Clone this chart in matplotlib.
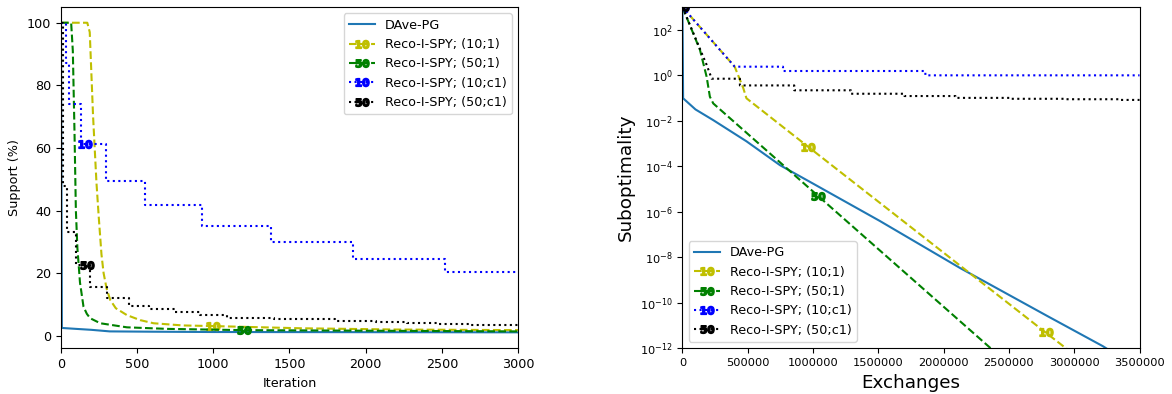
import numpy as np
import matplotlib
matplotlib.use("Agg")
from matplotlib import pyplot as plt
from matplotlib.ticker import NullLocator

# -----------------------
# data: left panel (support vs iteration)
# -----------------------

it_dave = [0, 6, 100, 200, 320, 600, 1000, 3000]
sup_dave = [100, 2.5, 2.2, 1.9, 1.4, 1.3, 1.2, 1.1]

it_10_1 = [0, 173, 189, 211, 233, 248, 266, 280, 300, 324, 360, 433, 520,
           608, 800, 1000, 1571, 2200, 3000]
sup_10_1 = [100, 100, 97, 70, 49, 38, 26, 20, 15, 11.4, 8.8, 6.6, 5.0,
            4.0, 3.3, 3.1, 2.4, 2.0, 1.8]

it_50_1 = [0, 67, 78, 89, 98, 108, 125, 148, 170, 192, 258, 433, 700,
           1200, 3000]
sup_50_1 = [100, 100, 91, 65, 40, 28, 17, 9.3, 7.0, 5.6, 4.0, 2.7, 2.2,
            1.8, 1.4]

# step curves (value holds until next x)
it_10_c1 = [0, 30, 55, 133, 160, 293, 550, 925, 1376, 1915, 2518, 3000]
sup_10_c1 = [100, 87, 74, 61.4, 61.4, 49.5, 41.7, 35.1, 30, 24.5, 20.4, 20.4]

it_50_c1 = [0, 11, 40, 100, 171, 188, 302, 444, 575, 750, 915, 1090, 1400,
            1801, 2069, 2270, 2470, 2690, 3000]
sup_50_c1 = [100, 48, 33, 22.5, 22.5, 15.7, 12.2, 9.5, 8.5, 7.7, 6.7, 5.8,
             5.3, 4.7, 4.3, 4.0, 3.7, 3.5, 3.5]

# -----------------------
# data: right panel (suboptimality vs exchanges)
# -----------------------

ex_dave = [0, 5e3, 1e5, 2.36e5, 4.9e5, 7.47e5, 1.0e6, 1.51e6, 2.125e6,
           2.79e6, 3.22e6, 3.3e6]
sub_dave = [1e3, 9.8e-2, 3.16e-2, 1.07e-2, 1.26e-3, 1.12e-4, 1.74e-5,
            4.0e-7, 3.4e-9, 2.7e-11, 1.23e-12, 6.3e-13]

ex_10_1 = [0, 4.0e5, 4.66e5, 4.9e5, 9.63e5, 2.78e6, 2.96e6]
sub_10_1 = [1e3, 2.4, 0.27, 9.8e-2, 7.2e-4, 5.0e-12, 7.9e-13]

ex_50_1 = [0, 1.34e5, 1.85e5, 2.1e5, 2.36e5, 1.04e6, 2.40e6]
sub_50_1 = [1e3, 13.2, 0.87, 0.115, 0.058, 4.9e-6, 6.3e-13]

ex_10_c1 = [0, 4.0e5, 7.7e5, 7.7e5, 1.86e6, 1.86e6, 3.5e6]
sub_10_c1 = [1e3, 2.4, 2.4, 1.55, 1.55, 1.0, 1.0]

ex_50_c1 = [0, 1.85e5, 2.24e5, 4.4e5, 4.4e5, 8.56e5, 8.56e5, 1.29e6, 1.29e6,
            1.70e6, 1.70e6, 2.09e6, 2.09e6, 2.51e6, 2.51e6, 2.93e6, 2.93e6,
            3.35e6, 3.35e6, 3.5e6]
sub_50_c1 = [1e3, 2.9, 0.71, 0.71, 0.36, 0.36, 0.22, 0.22, 0.155, 0.155,
             0.123, 0.123, 0.102, 0.102, 0.093, 0.093, 0.089, 0.089, 0.083,
             0.083]

labels = ["DAve-PG", "Reco-I-SPY; (10;1)", "Reco-I-SPY; (50;1)",
          "Reco-I-SPY; (10;c1)", "Reco-I-SPY; (50;c1)"]

M10 = r'$\mathbf{10}$'
M50 = r'$\mathbf{50}$'
MS = 9.5

# -----------------------
# plotting
# -----------------------

fig = plt.figure(figsize=(11.72, 3.94), dpi=100)
ax1 = fig.add_axes([0.052, 0.116, 0.390, 0.866])
ax2 = fig.add_axes([0.5823, 0.116, 0.390, 0.866])

# left
ax1.plot(it_dave, sup_dave, color='#1f77b4', lw=1.5, label=labels[0])
ax1.plot(it_10_1, sup_10_1, 'y--', lw=1.5, marker=M10, ms=MS,
         markevery=[15], label=labels[1])
ax1.plot(it_50_1, sup_50_1, 'g--', lw=1.5, marker=M50, ms=MS,
         markevery=[13], label=labels[2])
ax1.plot(it_10_c1, sup_10_c1, 'b:', lw=1.5, marker=M10, ms=MS,
         markevery=[4], drawstyle='steps-post', label=labels[3])
ax1.plot(it_50_c1, sup_50_c1, 'k:', lw=1.5, marker=M50, ms=MS,
         markevery=[4], drawstyle='steps-post', label=labels[4])

ax1.set_xlim(0, 3000)
ax1.set_ylim(-4, 105)
ax1.set_xticks([0, 500, 1000, 1500, 2000, 2500, 3000])
ax1.set_yticks([0, 20, 40, 60, 80, 100])
ax1.tick_params(labelsize=9.2)
ax1.set_xlabel("Iteration", fontsize=9.2)
ax1.set_ylabel("Support (%)", fontsize=9.2)
ax1.legend(loc='upper right', fontsize=9.2, numpoints=1)

# right
ax2.plot(ex_dave, sub_dave, color='#1f77b4', lw=1.5, label=labels[0])
ax2.plot(ex_10_1, sub_10_1, 'y--', lw=1.5, marker=M10, ms=MS,
         markevery=[4, 5], label=labels[1])
ax2.plot(ex_50_1, sub_50_1, 'g--', lw=1.5, marker=M50, ms=MS,
         markevery=[5], label=labels[2])
ax2.plot(ex_10_c1, sub_10_c1, 'b:', lw=1.5, marker=M10, ms=MS,
         markevery=[0], label=labels[3])
ax2.plot(ex_50_c1, sub_50_c1, 'k:', lw=1.5, marker=M50, ms=MS,
         markevery=[0], label=labels[4])

ax2.set_yscale('log')
ax2.set_xlim(0, 3.5e6)
ax2.set_ylim(1e-12, 1e3)
ax2.set_yticks([10.0 ** k for k in range(-12, 3, 2)])
ax2.yaxis.set_minor_locator(NullLocator())
ax2.set_xticks([0, 500000, 1000000, 1500000, 2000000, 2500000, 3000000,
                3500000])
ax2.ticklabel_format(axis='x', style='plain')
ax2.tick_params(labelsize=8.2)
ax2.set_xlabel("Exchanges", fontsize=13.2)
ax2.set_ylabel("Suboptimality", fontsize=13.2)
ax2.legend(loc='lower left', fontsize=9.2, numpoints=1)

fig.savefig("out.png", dpi=100)
plt.close(fig)
